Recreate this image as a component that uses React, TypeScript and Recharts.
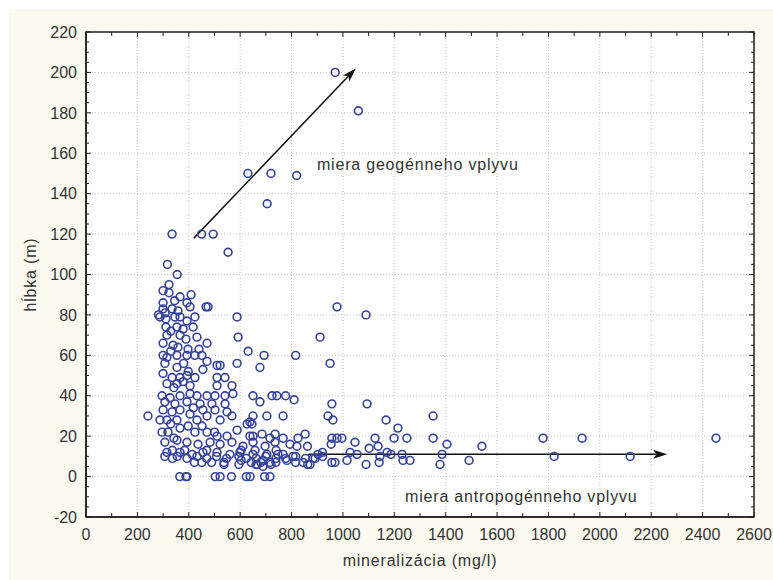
import React from "react";
import {
  ScatterChart,
  Scatter,
  XAxis,
  YAxis,
  CartesianGrid,
  ReferenceLine,
  ReferenceDot,
  ReferenceArea,
} from "recharts";

// [mineralizácia mg/l, hĺbka m]
const hlbokeVrty: [number, number][] = [
  [970, 200], [1060, 181], [630, 150], [720, 150], [820, 149], [705, 135],
  [335, 120], [450, 120], [495, 120], [553, 111], [317, 105], [355, 100],
];

const vrtyNad40: [number, number][] = [
  [300, 92], [323, 95], [323, 91], [366, 89], [409, 90], [393, 86], [300, 86],
  [300, 83], [335, 83], [358, 82], [405, 84], [467, 84], [475, 84], [288, 79],
  [311, 78], [346, 79], [366, 79], [424, 79], [393, 77], [588, 79], [311, 74],
  [354, 74], [378, 73], [417, 74], [315, 70], [366, 70], [432, 69], [592, 69],
  [471, 66], [300, 66], [339, 65], [389, 68], [358, 64], [397, 63], [631, 62],
  [300, 60], [315, 59], [354, 60], [393, 60], [424, 60], [451, 60], [510, 55],
  [522, 55], [588, 56], [677, 54], [693, 60], [816, 60], [307, 56], [354, 54],
  [471, 57], [455, 53], [300, 51], [335, 49], [366, 49], [393, 50], [424, 49],
  [510, 49], [541, 49], [315, 46], [354, 46], [405, 45], [510, 45], [568, 45],
  [296, 40], [327, 39], [366, 40], [405, 41], [432, 40], [471, 40], [502, 40],
  [541, 40], [572, 41], [650, 40], [724, 40], [743, 40], [777, 40], [308, 81],
  [282, 80], [345, 87], [440, 63], [330, 62], [380, 56], [342, 44], [378, 47],
  [330, 72], [398, 52],
];

const vrtyDo40: [number, number][] = [
  [307, 37], [346, 36], [393, 37], [444, 36], [490, 36], [541, 36], [677, 37],
  [810, 38], [300, 33], [335, 32], [366, 33], [405, 31], [455, 33], [502, 33],
  [549, 32], [568, 30], [471, 30], [241, 30], [288, 28], [315, 28], [354, 28],
  [432, 28], [522, 28], [627, 26], [646, 26], [650, 30], [704, 30], [767, 30],
  [638, 27], [296, 22], [319, 22], [366, 24], [424, 22], [471, 22], [510, 20],
  [549, 20], [588, 23], [638, 20], [685, 21], [716, 19], [650, 20], [736, 21],
  [767, 19], [825, 19], [853, 21], [307, 17], [354, 18], [393, 17], [436, 16],
  [483, 17], [522, 16], [568, 17], [611, 15], [650, 17], [697, 15], [736, 17],
  [794, 16], [821, 15], [315, 12], [366, 12], [413, 11], [455, 12], [510, 12],
  [560, 11], [599, 12], [650, 11], [704, 11], [747, 11], [767, 11], [740, 13],
  [658, 13], [806, 10], [903, 11], [884, 9], [470, 13], [384, 13], [336, 13],
  [604, 13], [862, 15], [330, 26], [398, 25], [452, 25], [500, 22], [342, 19],
  [418, 34],
];

const vrtyPlytke: [number, number][] = [
  [307, 10], [336, 9], [355, 10], [393, 9], [432, 10], [470, 9], [508, 10],
  [547, 9], [595, 10], [624, 9], [662, 9], [700, 10], [739, 9], [777, 9],
  [816, 10], [854, 9], [892, 9], [921, 10], [422, 7], [451, 7], [489, 7],
  [537, 7], [604, 8], [643, 7], [681, 7], [739, 7], [782, 8], [816, 7],
  [845, 7], [863, 6], [537, 6], [595, 6], [662, 6], [689, 5], [666, 6],
  [716, 7], [720, 6], [872, 6], [689, 8], [365, 0], [389, 0], [393, 0],
  [503, 0], [522, 0], [566, 0], [624, 0], [639, 0], [695, 0], [716, 0],
];

const vrtyVychod: [number, number][] = [
  [977, 84], [1090, 80], [911, 69], [950, 56], [957, 36], [1094, 36], [942, 30],
  [961, 28], [1168, 28], [1351, 30], [1214, 24], [1351, 19], [1779, 19],
  [1931, 19], [2452, 19], [1541, 15], [1405, 16], [1491, 8], [1822, 10],
  [2118, 10], [1378, 6], [1386, 11], [1249, 19], [1199, 19], [1125, 19],
  [1137, 15], [1047, 17], [1102, 14], [1090, 6], [1141, 7], [1144, 10],
  [1187, 11], [1230, 11], [1234, 8], [1261, 8], [1172, 12], [1028, 12],
  [1055, 11], [1016, 8], [969, 7], [957, 7], [957, 19], [977, 19], [996, 19],
  [954, 16], [920, 12],
];

const xMajor = [0, 200, 400, 600, 800, 1000, 1200, 1400, 1600, 1800, 2000, 2200, 2400, 2600];
const yMajor = [-20, 0, 20, 40, 60, 80, 100, 120, 140, 160, 180, 200, 220];
const xTicks = xMajor.flatMap((v) => (v < 2600 ? [v, v + 100] : [v]));
const yTicks = yMajor.flatMap((v) => (v < 220 ? [v, v + 5, v + 10, v + 15] : [v]));

const geogennyVplyv = { from: { x: 420, y: 118 }, to: { x: 1050, y: 202 } };
const antropogennyVplyv = { from: { x: 865, y: 11 }, to: { x: 2262, y: 11 } };

const body = [...hlbokeVrty, ...vrtyNad40, ...vrtyDo40, ...vrtyPlytke, ...vrtyVychod].map(
  ([m, h]) => ({ m, h })
);

const FONT = '"Liberation Sans", Arial, sans-serif';
const TEXT = "#333";
const AXIS = "#222";
const DOT = "#34429a";
const GAP_X = 12;
const GAP_Y = 9;
const W = 764;
const H = 571;

const BottomTick = (p: any) => {
  const v = p.payload.value;
  const major = v % 200 === 0;
  const ay = p.y - GAP_X;
  return (
    <g>
      <line x1={p.x} x2={p.x} y1={ay} y2={ay - (major ? 5 : 4)} stroke={AXIS} />
      {major && (
        <text x={p.x} y={p.y} dy="0.71em" textAnchor="middle" fontSize={16} fill={TEXT} fontFamily={FONT}>
          {v}
        </text>
      )}
    </g>
  );
};

const LeftTick = (p: any) => {
  const v = p.payload.value;
  const major = v % 20 === 0;
  const ax = p.x + GAP_Y;
  return (
    <g>
      <line x1={ax} x2={ax + (major ? 5 : 3)} y1={p.y} y2={p.y} stroke={AXIS} />
      {major && (
        <text x={p.x} y={p.y} dy="0.355em" textAnchor="end" fontSize={16} fill={TEXT} fontFamily={FONT}>
          {v}
        </text>
      )}
    </g>
  );
};

// inward ticks along the top edge, drawn from a full-height reference line
const topTick = (len: number) => (p: any) => {
  const top = Math.min(p.y1, p.y2);
  return <line x1={p.x1} x2={p.x1} y1={top} y2={top + len} stroke={AXIS} />;
};

// inward ticks along the right edge, drawn from a full-width reference line
const rightTick = (len: number) => (p: any) => {
  const right = Math.max(p.x1, p.x2);
  return <line x1={right} x2={right - len} y1={p.y1} y2={p.y1} stroke={AXIS} />;
};

// line with a filled, slightly notched arrow head at the end
const Arrow = (p: any) => {
  const { x1, y1, x2, y2 } = p;
  const a = Math.atan2(y2 - y1, x2 - x1);
  const c = Math.cos(a);
  const s = Math.sin(a);
  const len = 14;
  const half = 4.5;
  const bx = x2 - len * c;
  const by = y2 - len * s;
  const nx = x2 - len * 0.75 * c;
  const ny = y2 - len * 0.75 * s;
  const pts = [
    [x2, y2],
    [bx - half * s, by + half * c],
    [nx, ny],
    [bx + half * s, by - half * c],
  ]
    .map((q) => q.join(","))
    .join(" ");
  return (
    <g>
      <line x1={x1} y1={y1} x2={nx} y2={ny} stroke="#111" strokeWidth={1.5} />
      <polygon points={pts} fill="#111" />
    </g>
  );
};

const Note = (text: string) => (p: any) => (
  <text x={p.cx} y={p.cy} fontSize={16} fill={TEXT} fontFamily={FONT} letterSpacing={0.8}>
    {text}
  </text>
);

const Ring = (p: any) => (
  <circle cx={p.cx} cy={p.cy} r={3.9} fill="none" stroke={DOT} strokeWidth={1.6} />
);

export default function App() {
  return (
    <div style={{ position: "fixed", inset: 0, background: "#fff", overflow: "hidden" }}>
      <div
        style={{
          position: "absolute",
          left: 9,
          top: 9,
          width: W,
          height: H,
          background: "#fcf9f1",
          fontFamily: FONT,
        }}
      >
        <ScatterChart width={W} height={H} margin={{ top: 23, right: 19, bottom: 0, left: 0 }}>
          <CartesianGrid
            stroke="#c4c4c4"
            strokeDasharray="1 2"
            fill="#fff"
            verticalValues={xMajor}
            horizontalValues={yMajor}
          />
          <XAxis
            type="number"
            dataKey="m"
            domain={[0, 2600]}
            ticks={xTicks}
            interval={0}
            height={63}
            tickSize={0}
            tickMargin={GAP_X}
            tick={<BottomTick />}
            axisLine={{ stroke: AXIS, strokeWidth: 1.5 }}
            label={{
              value: "mineralizácia (mg/l)",
              position: "insideBottom",
              offset: 14,
              fill: TEXT,
              fontSize: 16,
              fontFamily: FONT,
              letterSpacing: 0.8,
            }}
          />
          <YAxis
            type="number"
            dataKey="h"
            domain={[-20, 220]}
            ticks={yTicks}
            interval={0}
            width={77}
            tickSize={0}
            tickMargin={GAP_Y}
            tick={<LeftTick />}
            axisLine={{ stroke: AXIS, strokeWidth: 1.5 }}
            label={{
              value: "hĺbka (m)",
              angle: -90,
              position: "insideLeft",
              offset: 21,
              fill: TEXT,
              fontSize: 16,
              fontFamily: FONT,
              letterSpacing: 0.8,
              style: { textAnchor: "middle" },
            }}
          />
          <ReferenceArea
            x1={0}
            x2={2600}
            y1={-20}
            y2={220}
            fill="none"
            fillOpacity={0}
            stroke={AXIS}
            strokeWidth={1.5}
          />
          {xTicks.map((v) => (
            <ReferenceLine key={`t${v}`} x={v} shape={topTick(v % 200 === 0 ? 5 : 4)} />
          ))}
          {yTicks.map((v) => (
            <ReferenceLine key={`r${v}`} y={v} shape={rightTick(v % 20 === 0 ? 5 : 3)} />
          ))}
          <Scatter data={body} shape={Ring} isAnimationActive={false} />
          <ReferenceLine segment={[geogennyVplyv.from, geogennyVplyv.to]} shape={Arrow} />
          <ReferenceLine segment={[antropogennyVplyv.from, antropogennyVplyv.to]} shape={Arrow} />
          <ReferenceDot x={899} y={151.7} r={0} shape={Note("miera geogénneho vplyvu")} />
          <ReferenceDot x={1242} y={-12.6} r={0} shape={Note("miera antropogénneho vplyvu")} />
        </ScatterChart>
      </div>
    </div>
  );
}
